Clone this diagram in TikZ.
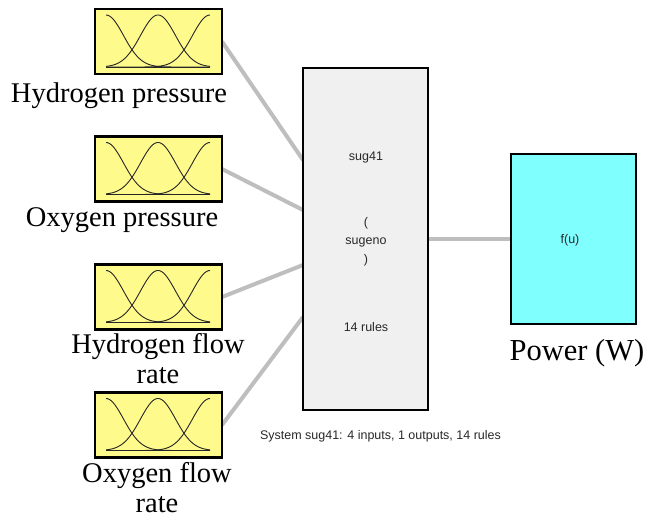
\documentclass[tikz,border=0pt]{standalone}
\usepackage{fontspec}
\setmainfont{Liberation Serif}
\setsansfont{Liberation Sans}
\usetikzlibrary{backgrounds}
\definecolor{inyellow}{RGB}{255,250,140}
\definecolor{outcyan}{RGB}{128,255,255}
\definecolor{sysgray}{RGB}{240,240,240}
\definecolor{conngray}{RGB}{190,190,190}
\definecolor{smalltext}{RGB}{40,40,40}
\newcommand{\mfcurves}[1]{%
  \begin{scope}[shift={(#1.south west)}]
    \draw[mfline] (11,-7) -- (115,-7);
    \foreach \c in {0,52,104}
      \draw[mfline] plot[domain=0:104,samples=80] ({11+\x},{-7-52*exp(-((\x-\c)^2)/612.5)});
  \end{scope}}
\begin{document}
\begin{tikzpicture}[x=1pt,y=-1pt,
  inbox/.style={draw=black,line width=2.6pt,fill=inyellow,rectangle,minimum width=127pt,minimum height=65pt,inner sep=0pt,outer sep=0pt},
  sysbox/.style={draw=black,line width=2.6pt,fill=sysgray,rectangle,minimum width=125pt,minimum height=342pt,inner sep=0pt,outer sep=0pt},
  outbox/.style={draw=black,line width=2.6pt,fill=outcyan,rectangle,minimum width=125pt,minimum height=170pt,inner sep=0pt,outer sep=0pt},
  mfline/.style={draw=black!85,line width=0.9pt},
  conn/.style={draw=conngray,line width=4pt},
  biglabel/.style={font=\fontsize{28.5}{30}\selectfont,anchor=base,inner sep=0pt,align=center},
  smalllabel/.style={font=\sffamily\fontsize{12.5}{14}\selectfont,text=smalltext,inner sep=0pt}
]
\useasboundingbox (0,0) rectangle (646,517);

% input boxes
\node[inbox] (in1) at (158.5,41.5) {};
\node[inbox] (in2) at (158.5,169) {};
\node[inbox] (in3) at (158.5,297) {};
\node[inbox] (in4) at (158.5,425) {};
\mfcurves{in1}
\mfcurves{in2}
\mfcurves{in3}
\mfcurves{in4}

% labels
\node[biglabel] (l1) at (119,102) {Hydrogen pressure};
\node[biglabel] (l2) at (122,226) {Oxygen pressure};
\node[biglabel] (l3a) at (158,353) {Hydrogen flow};
\node[biglabel] (l3b) at (158,383) {rate};
\node[biglabel] (l4a) at (157,482) {Oxygen flow};
\node[biglabel] (l4b) at (157,512) {rate};

% system box
\node[sysbox] (sys) at (365.5,239) {};
\node[smalllabel] (t1) at (366,157) {sug41};
\node[smalllabel] (t2) at (366,223) {(};
\node[smalllabel] (t3) at (366,242) {sugeno};
\node[smalllabel] (t4) at (366,260) {)};
\node[smalllabel] (t5) at (366,327) {14 rules};
\node[smalllabel] (cap) at (380.5,436) {System sug41: 4 inputs, 1 outputs, 14 rules};

% output box
\node[outbox] (out) at (573.5,239) {};
\node[smalllabel] (fu) at (570,240) {f(u)};
\node[biglabel,font=\fontsize{30.5}{32}\selectfont] (lout) at (577,360) {Power (W)};

% connectors
\begin{pgfonlayer}{background}
\draw[conn] (in1.east) -- ([yshift=79pt]sys.west);
\draw[conn] (in2.east) -- ([yshift=29pt]sys.west);
\draw[conn] (in3.east) -- ([yshift=-26pt]sys.west);
\draw[conn] (in4.east) -- ([yshift=-78pt]sys.west);
\draw[conn] (sys.east) -- (out.west);
\end{pgfonlayer}
\end{tikzpicture}
\end{document}
